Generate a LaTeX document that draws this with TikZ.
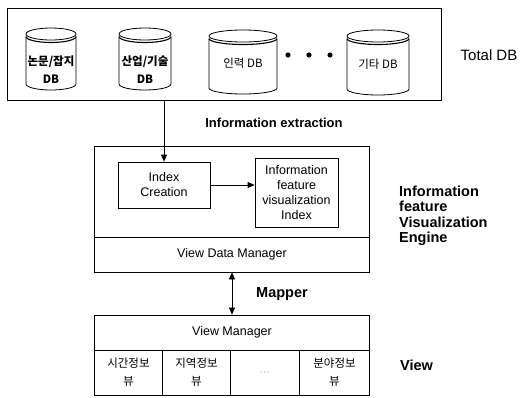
\documentclass[tikz,border=0pt]{standalone}
\usepackage{fontspec}
\setmainfont{Liberation Sans}
\newfontfamily\krfont{Noto Sans CJK KR}
\usetikzlibrary{arrows.meta, positioning, calc}
\tikzset{
  pane/.style={rectangle, draw, line width=0.8pt, inner sep=0pt,
               font=\fontsize{12.5}{15}\selectfont},
  ibox/.style={rectangle, draw, line width=0.8pt, inner sep=0pt, align=center,
               font=\fontsize{12.5}{15}\selectfont},
  tag/.style={inner sep=0pt, align=left, font=\fontsize{14.5}{15.5}\selectfont\bfseries},
  drumtxt/.style={inner sep=0pt, align=center, font=\krfont\fontsize{11.5}{18}\selectfont},
  cell/.style={rectangle, draw, line width=0.8pt, inner sep=0pt, align=center,
               minimum height=45pt, font=\krfont\fontsize{11.5}{18}\selectfont},
  arr/.style={-{Triangle[length=7pt, width=6pt]}, line width=0.8pt},
  biarr/.style={{Triangle[length=7pt, width=6pt]}-{Triangle[length=7pt, width=6pt]}, line width=0.8pt},
}
% database drum: name, centre x, half width, top, bottom, label, label y
\newcommand{\drum}[7]{%
  \draw[line width=0.8pt] (#2,#4+6) ellipse [x radius=#3pt, y radius=6pt];
  \draw[line width=1.1pt] (#2-#3,#4+8.5) arc [start angle=180, end angle=360, x radius=#3pt, y radius=6pt];
  \draw[line width=0.8pt] (#2-#3,#4+8.5) -- (#2-#3,#5-6)
    arc [start angle=180, end angle=360, x radius=#3pt, y radius=6pt] -- (#2+#3,#4+8.5);
  \node[drumtxt] (#1) at (#2,#7) {#6};
}

\begin{document}
\begin{tikzpicture}[x=1pt, y=-1pt]
  \useasboundingbox (0,0) rectangle (523,397);

  % total DB
  \node[pane, minimum width=434pt, minimum height=92pt] (totaldb) at (224,54) {};
  \drum{paper}{51}{25}{28}{90}{\bfseries 논문/잡지\\\bfseries DB}{70}
  \drum{industry}{145}{26}{28}{90}{\bfseries 산업/기술\\\bfseries DB}{70}
  \drum{staff}{243}{34}{30}{94}{인력 DB}{63}
  \drum{etc}{378}{31}{30}{95}{기타 DB}{64}
  \foreach \dx in {288,309,330}
    \fill (\dx,55) circle [radius=2.6pt];
  \node[inner sep=0pt, font=\fontsize{15}{18}\selectfont] (totlbl) at (489,55) {Total DB};

  % engine
  \node[pane, minimum width=275pt, minimum height=126pt] (engine) at (232,209) {};
  \node[pane, minimum width=275pt, minimum height=35pt] (vdm) at (232,254.5) {View Data Manager};
  \node[ibox, minimum width=92pt, minimum height=46pt] (idx) at (164,185) {Index\\Creation};
  \node[ibox, minimum width=83pt, minimum height=69pt] (ifv) at (296.5,192.5)
    {Information\\feature\\visualization\\Index};
  \node[tag, anchor=west] (englbl) at (399,216) {Information\\feature\\Visualization\\Engine};

  \draw[arr] (idx.north |- totaldb.south) -- (idx.north);
  \node[inner sep=0pt, font=\fontsize{13}{15}\selectfont\bfseries] (extract) at (274,123) {Information extraction};
  \draw[arr] (idx.east) -- (idx.east -| ifv.west);

  % view
  \node[pane, minimum width=275pt, minimum height=35pt] (vmgr) at (232,332.5) {View Manager};
  \node[cell, minimum width=68pt] (timev) at (128.5,372.5) {시간정보\\뷰};
  \node[cell, minimum width=68pt] (areav) at (196.5,372.5) {지역정보\\뷰};
  \node[cell, minimum width=69pt] (morev) at (265,372.5) {\fontsize{8}{10}\selectfont $\cdots$};
  \node[cell, minimum width=70pt] (fieldv) at (334.5,372.5) {분야정보\\뷰};

  \draw[biarr] (engine.south) -- (vmgr.north);
  \node[tag] (maplbl) at (282,294) {Mapper};
  \node[tag] (viewlbl) at (416.5,365) {View};
\end{tikzpicture}
\end{document}
